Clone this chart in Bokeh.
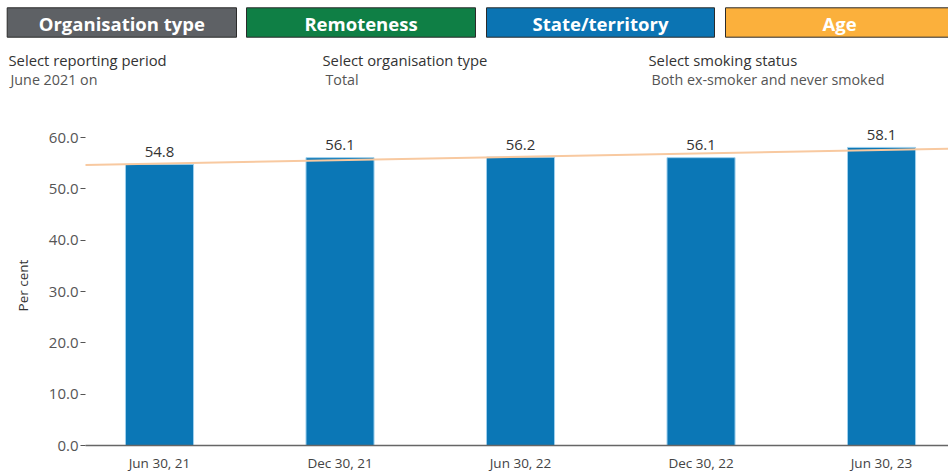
import numpy as np
from bokeh.plotting import figure
from bokeh.models import Range1d, FixedTicker, Slope, PrintfTickFormatter
from bokeh.embed import file_html
from bokeh.resources import INLINE
from bokeh.core.properties import value

# ---------------- data ----------------
periods = ["Jun 30, 21", "Dec 30, 21", "Jun 30, 22", "Dec 30, 22", "Jun 30, 23"]
percent = [54.8, 56.1, 56.2, 56.1, 58.1]
y_ticks = [0, 10, 20, 30, 40, 50, 60]

tabs = ["Organisation type", "Remoteness", "State/territory", "Age"]
filter_titles = ["Select reporting period", "Select organisation type", "Select smoking status"]
filter_values = ["June 2021 on", "Total", "Both ex-smoker and never smoked"]

# ---------------- styles / layout ----------------
FONT = "Open Sans"
W = 948
tab_colors = ["#5e6165", "#0f7f45", "#0b74b3", "#fbb03c"]
tab_left = [6.7, 246, 486, 725]
tab_right = [236, 475, 714, 953]
filter_title_x = [8, 322, 648]
filter_value_x = [10, 325, 651]

# ---------------- header (coordinates = page pixel positions) ----------------
HH = 110
h = figure(width=W, height=HH, x_range=Range1d(0, W), y_range=Range1d(HH, 0),
           output_backend="svg", toolbar_location=None, min_border=0,
           x_axis_location=None, y_axis_location=None)
h.grid.visible = False
h.outline_line_color = None

h.quad(left=tab_left, right=tab_right, top=[7.3] * 4, bottom=[36.7] * 4,
       fill_color=tab_colors, line_color="#2b2b2b", line_width=1)
h.text(x=[(l + r) / 2 for l, r in zip(tab_left, [236, 475, 714, 953])], y=[22.5] * 4, text=tabs,
       text_align="center", text_baseline="middle", text_color="white",
       text_font=value(FONT), text_font_style="bold", text_font_size="18.5px")
h.text(x=filter_title_x, y=[59] * 3, text=filter_titles, text_align="left",
       text_baseline="middle", text_color="#333333", text_font=value(FONT),
       text_font_size="14.8px")
h.text(x=filter_value_x, y=[79] * 3, text=filter_values, text_align="left",
       text_baseline="middle", text_color="#555555", text_font=value(FONT),
       text_font_size="14.3px")

# ---------------- chart ----------------
idx = list(range(len(periods)))
p = figure(width=W, height=474 - HH, x_range=Range1d(-0.41, 4.371), y_range=Range1d(0, 62.37),
           output_backend="svg", toolbar_location=None,
           min_border_left=85, min_border_right=0, min_border_top=15, min_border_bottom=27)
p.grid.visible = False
p.outline_line_color = None

p.vbar(x=idx, top=percent, width=0.377, fill_color="#0b77b6",
       line_color="#9fd0ee", line_width=1)

slope, intercept = np.polyfit(idx, percent, 1)
p.add_layout(Slope(gradient=slope, y_intercept=intercept,
                   line_color="#f8c9a0", line_width=2))

p.text(x=idx, y=percent, text=[f"{v:.1f}" for v in percent], text_align="center",
       text_baseline="middle", y_offset=-12.5, text_color="#333333",
       text_font=value(FONT), text_font_size="15px")

p.yaxis.ticker = FixedTicker(ticks=y_ticks)
p.yaxis.formatter = PrintfTickFormatter(format="%.1f")
p.yaxis.axis_line_color = None
p.yaxis.major_tick_out = 5
p.yaxis.major_tick_in = 0
p.yaxis.minor_tick_line_color = None
p.yaxis.major_tick_line_color = "#555555"
p.yaxis.major_label_standoff = 2
p.yaxis.major_label_text_font = FONT
p.yaxis.major_label_text_font_size = "15px"
p.yaxis.major_label_text_color = "#555555"
p.yaxis.axis_label = "Per cent"
p.yaxis.axis_label_text_font = FONT
p.yaxis.axis_label_text_font_style = "normal"
p.yaxis.axis_label_text_font_size = "13.5px"
p.yaxis.axis_label_text_color = "#333333"
p.yaxis.axis_label_standoff = 14

p.xaxis.ticker = FixedTicker(ticks=idx)
p.xaxis.major_label_overrides = {i: lab for i, lab in zip(idx, periods)}
p.xaxis.axis_line_color = "#666666"
p.xaxis.axis_line_width = 1.5
p.xaxis.major_tick_line_color = None
p.xaxis.major_tick_out = 0
p.xaxis.minor_tick_line_color = None
p.xaxis.major_label_standoff = 8
p.xaxis.major_label_text_font = FONT
p.xaxis.major_label_text_font_size = "13.5px"
p.xaxis.major_label_text_color = "#444444"

open("out.html", "w").write(file_html([h, p], INLINE))
